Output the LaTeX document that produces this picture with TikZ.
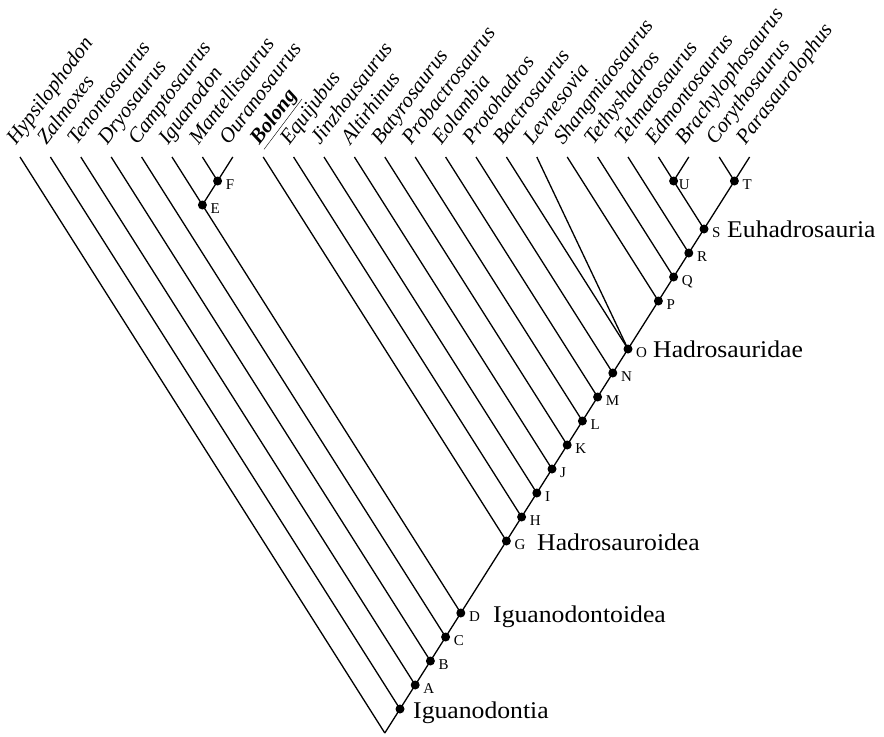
\documentclass[tikz,border=0pt]{standalone}
\usepackage{fontspec}
\setmainfont{Liberation Serif}
\usetikzlibrary{calc}
\begin{document}
\begin{tikzpicture}[x=1bp,y=-1bp,
  edge/.style={line width=1.3bp, draw=black},
  dot/.style={circle, fill=black, inner sep=0pt, minimum size=9bp},
  taxon/.style={anchor=base west, rotate=53, inner sep=0pt, font=\fontsize{21bp}{24bp}\selectfont\itshape},
  letter/.style={anchor=base west, inner sep=0pt, font=\fontsize{15bp}{18bp}\selectfont},
  clade/.style={anchor=base west, inner sep=0pt, xscale=1.07, font=\fontsize{24bp}{28bp}\selectfont}]
\useasboundingbox[fill=white] (0,0) rectangle (884,737);

% leaf tips and their labels
\foreach \i/\nm in {0/Hypsilophodon,1/Zalmoxes,2/Tenontosaurus,3/Dryosaurus,4/Camptosaurus,
  5/Iguanodon,6/Mantellisaurus,7/Ouranosaurus,9/Equijubus,10/Jinzhousaurus,
  11/Altirhinus,12/Batyrosaurus,13/Probactrosaurus,14/Eolambia,15/Protohadros,
  16/Bactrosaurus,17/Levnesovia,18/Shangmiaosaurus,19/Tethyshadros,20/Telmatosaurus,
  21/Edmontosaurus,22/Brachylophosaurus,23/Corythosaurus,24/Parasaurolophus}{
  \coordinate (t\i) at ({20+30.4*\i},157);
  \node[taxon] (lab\i) at ({20+30.4*\i-4},146) {\nm};
}
\coordinate (t8) at ({20+30.4*8},157);
\node[taxon] (lab8) at ({20+30.4*8-4},146) {\textbf{\underline{Bolong}}};

% root and spine nodes: node k at (384.8+15.2k, 733-24k)
\coordinate (root) at (384.8,733);
\foreach \nm/\k in {n1/1,A/2,B/3,C/4,D/5,G/8,H/9,I/10,J/11,K/12,L/13,M/14,N/15,O/16,P/18,Q/19,R/20,S/21,T/23}{
  \node[dot] (\nm) at ({384.8+15.2*\k},{733-24*\k}) {};
}
\node[dot] (F) at (217.6,181) {};
\node[dot] (E) at (202.4,205) {};
\node[dot] (U) at (673.6,181) {};

% spine
\draw[edge] (root) -- (n1.center) -- (A.center) -- (B.center) -- (C.center) -- (D.center)
  -- (G.center) -- (H.center) -- (I.center) -- (J.center) -- (K.center) -- (L.center)
  -- (M.center) -- (N.center) -- (O.center) -- (P.center) -- (Q.center) -- (R.center)
  -- (S.center) -- (T.center);

% branches
\draw[edge] (t0) -- (root);
\draw[edge] (t1) -- (n1.center);
\draw[edge] (t2) -- (A.center);
\draw[edge] (t3) -- (B.center);
\draw[edge] (t4) -- (C.center);
\draw[edge] (t5) -- (E.center) -- (D.center);
\draw[edge] (t6) -- (F.center);
\draw[edge] (t7) -- (F.center);
\draw[edge] (F.center) -- (E.center);
\draw[edge] (t8) -- (G.center);
\draw[edge] (t9) -- (H.center);
\draw[edge] (t10) -- (I.center);
\draw[edge] (t11) -- (J.center);
\draw[edge] (t12) -- (K.center);
\draw[edge] (t13) -- (L.center);
\draw[edge] (t14) -- (M.center);
\draw[edge] (t15) -- (N.center);
\draw[edge] (t16) -- (O.center);
\draw[edge] (t17) -- (O.center);
\draw[edge] (t18) -- (P.center);
\draw[edge] (t19) -- (Q.center);
\draw[edge] (t20) -- (R.center);
\draw[edge] (t21) -- (U.center);
\draw[edge] (t22) -- (U.center);
\draw[edge] (U.center) -- (S.center);
\draw[edge] (t23) -- (T.center);
\draw[edge] (t24) -- (T.center);

% node letters
\foreach \nm in {A,B,C,D,G,H,I,J,K,L,M,N,O,P,Q,R,S,T,E,F}{
  \node[letter] (let\nm) at ($(\nm)+(8,8)$) {\nm};
}
\node[letter] (letU) at ($(U)+(5,8)$) {U};

% clade names
\node[clade] (cIguanodontia) at (413,718) {Iguanodontia};
\node[clade] (cIguanodontoidea) at (493,622) {Iguanodontoidea};
\node[clade] (cHadrosauroidea) at (537,550) {Hadrosauroidea};
\node[clade] (cHadrosauridae) at (653,357) {Hadrosauridae};
\node[clade] (cEuhadrosauria) at (727,237) {Euhadrosauria};
\end{tikzpicture}
\end{document}
